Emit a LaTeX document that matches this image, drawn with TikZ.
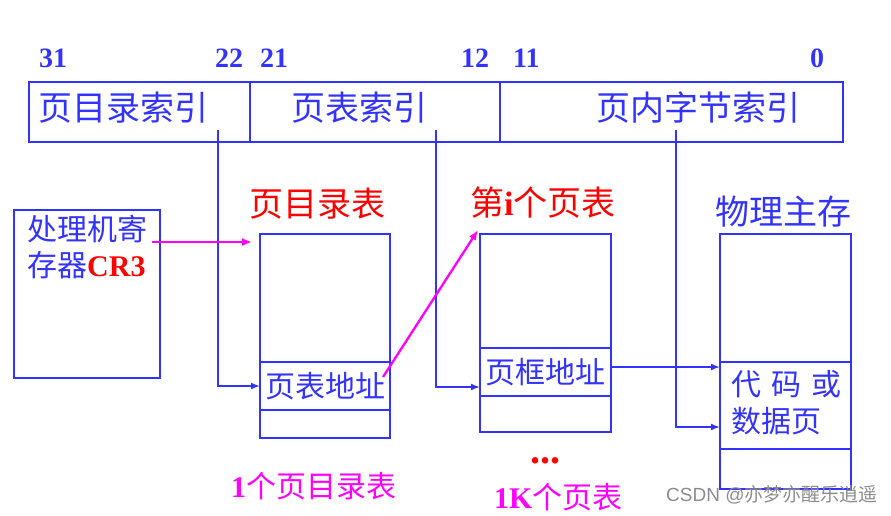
\documentclass[tikz,border=0pt]{standalone}
\usepackage{fontspec}
\setmainfont{Liberation Serif}
\newfontfamily\cjk{Noto Sans CJK SC}
\usetikzlibrary{arrows.meta}
\definecolor{myblue}{RGB}{51,51,255}
\definecolor{myred}{RGB}{255,0,0}
\definecolor{mymag}{RGB}{255,0,255}
\begin{document}
\begin{tikzpicture}[x=1pt,y=-1pt,
  cell/.style={draw=myblue,line width=2.8pt,anchor=north west,inner sep=0pt,outer sep=0pt,
    font=\cjk\fontsize{30}{34}\selectfont,text=myblue},
  num/.style={anchor=base west,inner sep=0pt,text=myblue,font=\bfseries\fontsize{28}{30}\selectfont},
  big/.style={anchor=west,inner sep=0pt,font=\cjk\fontsize{34}{38}\selectfont},
  mid/.style={anchor=west,inner sep=0pt,font=\cjk\fontsize{30}{34}\selectfont},
  bconn/.style={draw=myblue,line width=1.7pt,-{Latex[length=9pt,width=7pt]}},
  mconn/.style={draw=mymag,line width=2.3pt,-{Latex[length=10pt,width=8pt]}},
  lat/.style={font=\bfseries\fontsize{40}{44}\selectfont}]
\useasboundingbox (0,0) rectangle (891,515);
% bit numbers
\node[num] (b31) at (39,67) {31};
\node[num] (b22) at (215,67) {22};
\node[num] (b21) at (260,67) {21};
\node[num] (b12) at (461,67) {12};
\node[num] (b11) at (513,67) {11};
\node[num] (b0) at (810,67) {0};
% linear address box
\node[cell,minimum width=221pt,minimum height=60pt] (tb1) at (29,82) {};
\node[cell,minimum width=250pt,minimum height=60pt] (tb2) at (250,82) {};
\node[cell,minimum width=343pt,minimum height=60pt] (tb3) at (500,82) {};
\node[big,text=myblue] (t1) at (38,108) {页目录索引};
\node[big,text=myblue] (t2) at (291,108) {页表索引};
\node[big,text=myblue] (t3) at (596,108) {页内字节索引};
% CR3 register
\node[cell,minimum width=146pt,minimum height=168pt] (cr) at (14,210) {};
\node[mid,text=myblue] (crt1) at (27,229) {处理机寄};
\node[mid,text=myblue] (crt2) at (27,265) {存器{\color{myred}\rmfamily\bfseries CR3}};
% page directory
\node[big,text=myred] (dirt) at (249,204) {页目录表};
\node[cell,minimum width=130pt,minimum height=128pt] (dir1) at (260,234) {};
\node[cell,minimum width=130pt,minimum height=48pt] (dir2) at (260,362) {页表地址};
\node[cell,minimum width=130pt,minimum height=28pt] (dir3) at (260,410) {};
\node[mid,text=mymag] (dirl) at (231,486) {{\rmfamily\bfseries 1}个页目录表};
% page table
\node[big,text=myred] (ptt) at (470,203) {第{\rmfamily\bfseries i}个页表};
\node[cell,minimum width=131pt,minimum height=114pt] (pt1) at (480,234) {};
\node[cell,minimum width=131pt,minimum height=48pt] (pt2) at (480,348) {页框地址};
\node[cell,minimum width=131pt,minimum height=36pt] (pt3) at (480,396) {};
\node[anchor=base,inner sep=0pt,text=myred,lat] (dots) at (545.5,463) {...};
\node[mid,text=mymag] (ptl) at (494,497) {{\rmfamily\bfseries 1K}个页表};
% physical memory
\node[big,text=myblue] (memt) at (715,212) {物理主存};
\node[cell,minimum width=131pt,minimum height=128pt] (mem1) at (720,234) {};
\node[cell,minimum width=131pt,minimum height=87pt] (mem2) at (720,362) {};
\node[cell,minimum width=131pt,minimum height=40pt] (mem3) at (720,449) {};
\node[mid,text=myblue] (memc1) at (731,384) {代\hspace{10pt}码\hspace{10pt}或};
\node[mid,text=myblue] (memc2) at (731,421) {数据页};
% connectors
\coordinate (s1) at (218,130);
\coordinate (s2) at (436,130);
\coordinate (s3) at (676,130);
\coordinate (c1) at (152,242);
\coordinate (c2) at (383,377);
\draw[bconn] (s1) |- (dir2.west);
\draw[bconn] (s2) |- ([yshift=9pt]pt2.south west);
\draw[bconn] (s3) |- ([yshift=22pt]mem2.south west);
\draw[bconn] ([yshift=5pt]pt2.east) -- ([yshift=5pt]pt2.east -| mem2.west);
\draw[mconn] (c1) -- ([shift={(-8,8)}]dir1.north west);
\draw[mconn] (c2) -- ([shift={(-2,-4)}]pt1.north west);
% watermark
\node[anchor=west,inner sep=0pt,text=black!45,font=\fontspec{Liberation Sans}\fontsize{19}{22}\selectfont] (wm) at (666,495) {CSDN @{\cjk 亦梦亦醒乐逍遥}};
\end{tikzpicture}
\end{document}
